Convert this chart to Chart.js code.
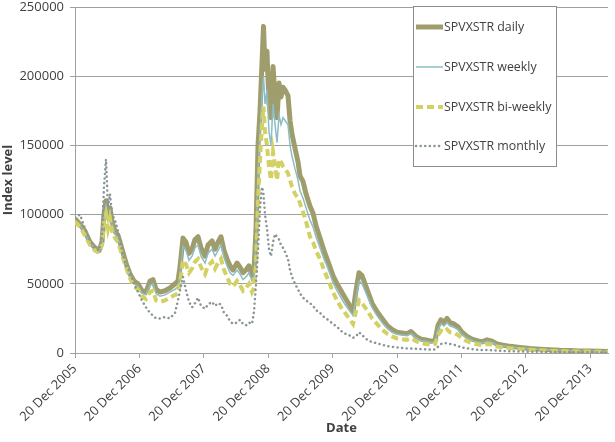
<!DOCTYPE html>
<html>
<head>
<meta charset="utf-8">
<script src="https://cdn.jsdelivr.net/npm/chart.js@4"></script>
<style>
html,body{margin:0;padding:0;background:#fff;}
#wrap{width:615px;height:442px;}
</style>
</head>
<body>
<div id="wrap"><canvas id="c" width="615" height="442"></canvas></div>
<script>
// x positions: years after 20 Dec 2005
const t = [0.000,0.078,0.155,0.233,0.311,0.373,0.419,0.450,0.481,0.512,0.543,0.575,0.621,0.668,0.730,0.792,0.854,0.916,0.978,1.040,
1.102,1.165,1.211,1.258,1.320,1.398,1.475,1.553,1.599,1.630,1.677,1.724,1.770,1.817,1.863,1.910,1.957,2.019,2.065,2.127,
2.174,2.220,2.267,2.314,2.360,2.407,2.453,2.516,2.562,2.609,2.655,2.702,2.748,2.780,2.811,2.842,2.873,2.904,2.927,2.950,
2.981,3.012,3.043,3.075,3.106,3.137,3.168,3.199,3.230,3.261,3.307,3.339,3.370,3.416,3.463,3.494,3.540,3.587,3.649,3.696,
3.742,3.804,3.866,3.929,4.006,4.068,4.130,4.193,4.255,4.317,4.363,4.410,4.457,4.503,4.550,4.612,4.689,4.767,4.845,4.922,
5.000,5.078,5.155,5.217,5.295,5.373,5.450,5.528,5.590,5.637,5.683,5.730,5.776,5.823,5.885,5.947,6.009,6.087,6.165,6.242,
6.320,6.398,6.475,6.553,6.630,6.755,6.910,7.065,7.220,7.376,7.531,7.686,7.842,7.997,8.152,8.276];

const daily = [97000,93000,88000,80000,76000,74000,80000,100000,110000,98000,105000,95000,88000,85000,75000,65000,57000,52000,50000,45000,
44000,52000,53000,46000,44000,45000,47000,50000,52000,62000,83000,80000,72000,75000,82000,84000,76000,70000,78000,81000,
75000,80000,84000,74000,68000,63000,60000,65000,62000,58000,60000,63000,56000,60000,90000,150000,175000,210000,236000,205000,
218000,180000,170000,207000,185000,170000,195000,185000,192000,190000,186000,168000,158000,148000,138000,128000,124000,115000,106000,101000,
92000,83000,74000,66000,56000,50000,45000,40000,35000,30000,45000,58000,56000,50000,44000,36000,30000,25000,20000,17000,
15000,14500,14000,15500,12000,10000,9500,8500,9000,20000,24000,22000,25000,22000,21000,19000,15000,12000,10000,9000,
8000,9500,8500,6500,5800,4800,4000,3300,2800,2400,2000,1800,1500,1400,1200,1100];

const weekly = [96000,92000,87000,79000,75500,73500,79000,98000,106000,96000,102000,93000,86000,83000,73000,63000,55000,50000,48000,43000,
42000,49000,50000,43000,41000,42000,44000,46000,48000,57000,77000,74000,67000,70000,76000,78000,70000,65000,72000,75000,
70000,74000,78000,69000,63000,58000,56000,60000,57000,53000,55000,58000,52000,55000,80000,130000,160000,185000,200000,180000,
190000,160000,150000,180000,165000,152000,172000,165000,170000,168000,165000,150000,142000,133000,125000,117000,112000,105000,96000,91000,
84000,76000,68000,61000,51000,45000,40000,35000,31000,27000,40000,52000,50000,45000,40000,33000,27000,22000,18000,15000,
13500,13000,12500,14000,11000,9000,8500,7600,8000,17000,21000,19500,22000,19500,18500,17000,13500,10800,9000,8000,
7200,8500,7600,5800,5200,4300,3600,3000,2500,2150,1800,1600,1350,1250,1080,1000];

const biweekly = [95000,91000,85000,78000,74000,72500,78000,95000,100000,90000,97000,88000,83000,80000,71000,62000,54000,48000,46000,41000,
39000,44000,45000,38000,37000,38000,40000,42000,43000,50000,67000,64000,58000,61000,66000,68000,62000,57000,63000,66000,
61000,65000,68000,60000,55000,50000,48000,52000,49000,45000,47000,50000,44000,47000,65000,110000,140000,165000,178000,160000,
150000,135000,125000,145000,135000,125000,140000,138000,135000,133000,130000,125000,120000,115000,112000,108000,102000,95000,84000,80000,
74000,68000,60000,53000,44000,38000,33000,29000,25000,21000,30000,38000,36000,33000,30000,25000,21000,17000,14000,12000,
10500,10000,9500,10500,8500,7000,6500,6000,6500,13000,16000,15000,17000,15000,14500,13000,10500,8500,7000,6300,
5600,6500,6000,4600,4100,3400,2800,2400,2000,1700,1450,1300,1100,1000,900,800];

const monthly = [98000,100000,90000,81000,76000,74000,85000,120000,140000,105000,115000,100000,96000,88000,74000,63000,58000,50000,44000,38000,
33000,29000,27000,25000,25000,26000,25000,29000,38000,45000,55000,45000,37000,33000,36000,40000,34000,32000,35000,37000,
34000,36000,35000,29000,27000,23000,21000,22000,24000,21000,20000,22000,21000,30000,50000,75000,105000,120000,115000,100000,
90000,75000,70000,80000,86000,84000,82000,78000,76000,73000,68000,60000,55000,50000,46000,43000,40000,38000,36000,34000,
31000,29000,26000,24000,21000,19000,16000,14000,13000,11000,12000,15000,13000,11000,9000,8000,7000,6000,5000,4500,
4000,3600,3300,3200,3000,2800,2600,2400,2500,4500,6500,7200,7000,6500,6000,5000,4000,3400,2800,2400,
2100,2200,2000,1700,1500,1300,1100,950,850,750,650,600,550,500,450,420];

const seriesNames = ['SPVXSTR daily','SPVXSTR weekly','SPVXSTR bi-weekly','SPVXSTR monthly'];
const tickYears = [0,1,2,3,4,5,6,7,8];
const tickLabels = ['20 Dec 2005','20 Dec 2006','20 Dec 2007','20 Dec 2008','20 Dec 2009','20 Dec 2010','20 Dec 2011','20 Dec 2012','20 Dec 2013'];
const yTicks = [0,50000,100000,150000,200000,250000];

const pts = arr => arr.map((v,i)=>({x:t[i], y:v}));
const FONT = "'Open Sans', 'Liberation Sans', sans-serif";
const TXT = '#404040';
const GRID = '#a0a0a0';

const legendBox = {
  id:'legendBox',
  afterDraw(chart){
    const ctx = chart.ctx;
    const x0=413.5, y0=6.5, w=143, h=160;
    ctx.save();
    ctx.fillStyle='#fff';
    ctx.fillRect(x0,y0,w,h);
    ctx.strokeStyle='#8c8c8c';
    ctx.lineWidth=1;
    ctx.strokeRect(x0,y0,w,h);
    const rows=[27,67,107,146];
    chart.data.datasets.forEach((ds,i)=>{
      const y=rows[i];
      ctx.beginPath();
      ctx.strokeStyle=ds.borderColor;
      ctx.lineWidth=ds.borderWidth;
      ctx.lineCap=ds.borderCapStyle||'butt';
      ctx.setLineDash(ds.borderDash||[]);
      ctx.moveTo(416,y); ctx.lineTo(443,y);
      ctx.stroke();
      ctx.setLineDash([]);
      ctx.fillStyle=TXT;
      ctx.font="12.4px "+FONT;
      ctx.textBaseline='middle';
      ctx.textAlign='left';
      ctx.fillText(ds.label,444,y);
    });
    ctx.restore();
  }
};

new Chart(document.getElementById('c'),{
  type:'line',
  data:{
    datasets:[
      {label:seriesNames[0], data:pts(daily), borderColor:'#a09d6c', borderWidth:5, order:4, borderJoinStyle:'round'},
      {label:seriesNames[1], data:pts(weekly), borderColor:'#8dbcc5', borderWidth:1.5, order:3},
      {label:seriesNames[2], data:pts(biweekly), borderColor:'#d3d163', borderWidth:4, borderDash:[7,4], order:2},
      {label:seriesNames[3], data:pts(monthly), borderColor:'#8a9599', borderWidth:2.5, borderDash:[0.1,4.5], borderCapStyle:'round', order:1}
    ]
  },
  options:{
    responsive:false,
    animation:false,
    devicePixelRatio:1,
    elements:{point:{radius:0}, line:{tension:0, fill:false}},
    layout:{padding:{left:0,right:7,top:0,bottom:6}},
    plugins:{legend:{display:false}, tooltip:{enabled:false}},
    scales:{
      x:{
        type:'linear', min:0, max:8.276,
        afterBuildTicks(s){ s.ticks = tickYears.map(v=>({value:v})); },
        afterFit(s){ s.height = 83; s.paddingLeft = 0; s.paddingRight = 0; },
        ticks:{
          autoSkip:false, minRotation:45, maxRotation:45, color:TXT,
          font:{family:FONT,size:13},
          callback:(v)=>{ const i=tickYears.indexOf(v); return i>=0?tickLabels[i]:''; }
        },
        grid:{display:true, drawOnChartArea:false, drawTicks:true, tickLength:5, color:GRID},
        border:{display:true,color:GRID},
        title:{display:true,text:'Date',color:TXT,font:{family:FONT,size:13,weight:'bold'},padding:{top:0,bottom:0}}
      },
      y:{
        min:0, max:250000,
        afterBuildTicks(s){ s.ticks = yTicks.map(v=>({value:v})); },
        afterFit(s){ s.width = 75; s.paddingTop = 7; s.paddingBottom = 0; },
        ticks:{color:TXT, font:{family:FONT,size:13}, padding:6, callback:(v)=>String(v)},
        grid:{color:GRID, tickLength:5, drawTicks:true},
        border:{display:true,color:GRID},
        title:{display:true,text:'Index level',color:TXT,font:{family:FONT,size:13,weight:'bold'},padding:{top:0,bottom:2}}
      }
    }
  },
  plugins:[legendBox]
});
</script>
</body>
</html>
